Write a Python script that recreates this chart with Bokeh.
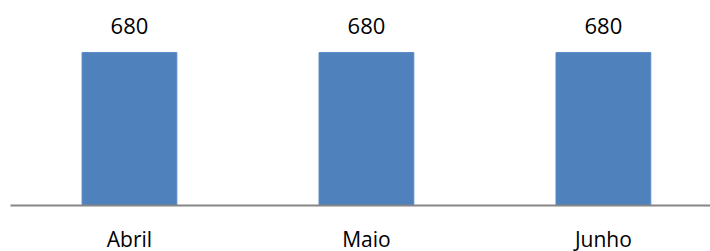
from bokeh.plotting import figure
from bokeh.models import Range1d, FixedTicker, ColumnDataSource
from bokeh.core.properties import value
from bokeh.embed import file_html
from bokeh.resources import INLINE

months = ["Abril", "Maio", "Junho"]
values = [680, 680, 680]

xs = list(range(len(months)))
src = ColumnDataSource(dict(x=xs, top=values, label=[str(v) for v in values]))

p = figure(output_backend="svg", toolbar_location=None,
           frame_width=700, frame_height=197,
           x_range=Range1d(-0.502, 2.452), y_range=Range1d(0, 876),
           min_border_left=10, min_border_right=0, min_border_top=8,
           min_border_bottom=0)
p.outline_line_color = None
p.grid.visible = False
p.yaxis.visible = False
p.background_fill_color = "white"
p.border_fill_color = "white"

p.vbar(x="x", top="top", width=0.40, bottom=0, source=src,
       fill_color="#4F81BD", line_color="#5A8AC6", line_width=1)

p.text(x="x", y="top", text="label", source=src,
       text_font=value("Open Sans"), text_font_size="22px",
       text_color="black", text_align="center", text_baseline="alphabetic",
       y_offset=-27)

ax = p.xaxis[0]
ax.ticker = FixedTicker(ticks=xs)
ax.major_label_overrides = {i: m for i, m in enumerate(months)}
ax.major_tick_line_color = None
ax.minor_tick_line_color = None
ax.axis_line_color = "#868686"
ax.axis_line_width = 2
ax.major_label_text_font = "Open Sans"
ax.major_label_text_font_size = "21px"
ax.major_label_text_color = "black"
ax.major_label_standoff = 13

open("out.html", "w").write(file_html(p, INLINE))
